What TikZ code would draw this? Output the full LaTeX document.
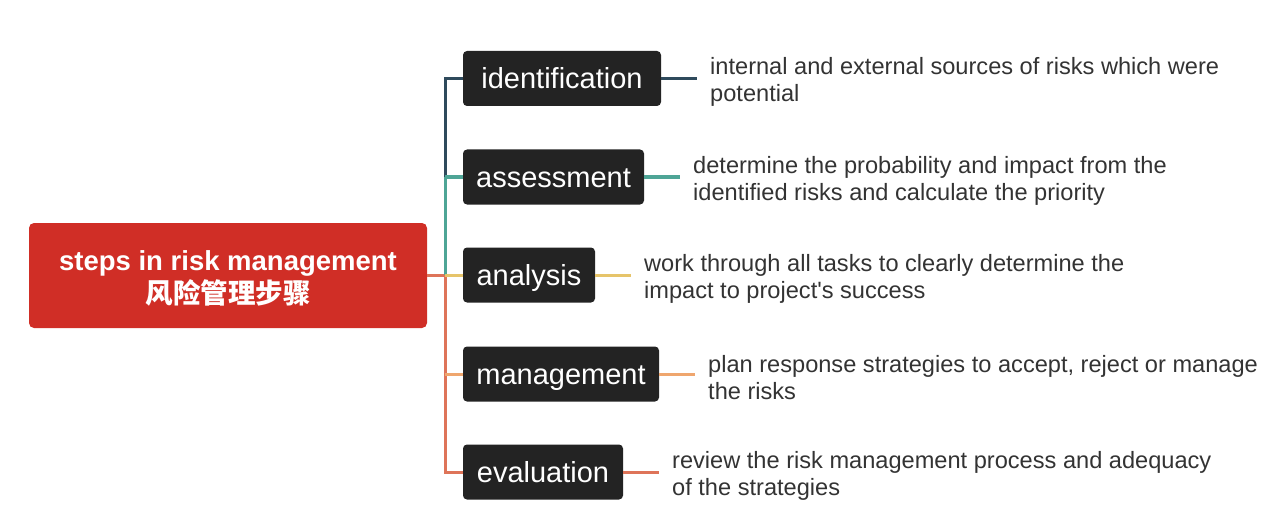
\documentclass[tikz,border=0pt]{standalone}
\usepackage{fontspec}
\setmainfont{Liberation Sans}
\newfontfamily\descfont{Liberation Sans}
\newfontfamily\cjk{Noto Sans CJK SC}
\definecolor{rootred}{HTML}{D02E26}
\definecolor{nodedark}{HTML}{232323}
\definecolor{txtgray}{HTML}{333333}
\definecolor{cnavy}{HTML}{2F4A5C}
\definecolor{cteal}{HTML}{4EA596}
\definecolor{cyellow}{HTML}{E6C46A}
\definecolor{corange}{HTML}{EFA66E}
\definecolor{cred}{HTML}{DE7459}
\tikzset{
  rootbox/.style={rounded corners=5pt, minimum width=398pt, minimum height=105pt, inner sep=0pt, text=white, align=center, font=\fontsize{27.5}{33}\selectfont\bfseries},
  stepbox/.style={fill=nodedark, rounded corners=4pt, minimum height=55pt, inner sep=0pt, text height=27pt, text depth=6pt, text=white, font=\fontsize{29}{34}\selectfont},
  desc/.style={anchor=west, inner sep=0pt, text=txtgray, align=left, font=\descfont\fontsize{23.6}{27}\selectfont},
  link/.style={line width=3pt},
}
\begin{document}
\begin{tikzpicture}[x=1pt,y=-1pt]
\useasboundingbox (0,0) rectangle (1280,532);
\fill[rootred, rounded corners=5pt] (29,223) rectangle (427,328);
\node[rootbox] (root) at (228,278) {steps in risk management\\{\cjk\bfseries 风险管理步骤}};
\node[stepbox, minimum width=198pt] (n1) at (562,78.5) {identification};
\node[stepbox, minimum width=181pt] (n2) at (553.5,177) {assessment};
\node[stepbox, minimum width=132pt] (n3) at (529,275) {analysis};
\node[stepbox, minimum width=196pt] (n4) at (561,374) {management};
\node[stepbox, minimum width=160pt] (n5) at (543,472) {evaluation};
\coordinate (t1) at (445,78.5);
\coordinate (t2) at (445,177);
\coordinate (t3) at (445,275);
\coordinate (t4) at (445,374);
\coordinate (t5) at (445,472);
\coordinate (r0) at (427,275);
\node[desc] (d1) at (710,82) {internal and external sources of risks which were\\potential};
\node[desc] (d2) at (693,181) {determine the probability and impact from the\\identified risks and calculate the priority};
\node[desc] (d3) at (644,279) {work through all tasks to clearly determine the\\impact to project's success};
\node[desc] (d4) at (708,378) {plan response strategies to accept, reject or manage\\the risks};
\node[desc] (d5) at (672,476) {review the risk management process and adequacy\\of the strategies};
% trunk
\draw[link, cred] (r0) -- (t3);
\draw[link, cred] (t3) -- (t5) -- (n5.west);
\draw[link, cteal] (t2) -- (t3);
\draw[link, cnavy, line join=miter] (n1.west) -- (t1) -- (t2);
\draw[link, cteal] (t2) -- (n2.west);
\draw[link, cyellow] (t3) -- (n3.west);
\draw[link, corange] (t4) -- (n4.west);
% right connectors
\draw[link, cnavy] (n1.east) -- ++(36,0);
\draw[link, cteal] (n2.east) -- ++(36,0);
\draw[link, cyellow] (n3.east) -- ++(36,0);
\draw[link, corange] (n4.east) -- ++(36,0);
\draw[link, cred] (n5.east) -- ++(36,0);
\end{tikzpicture}
\end{document}
